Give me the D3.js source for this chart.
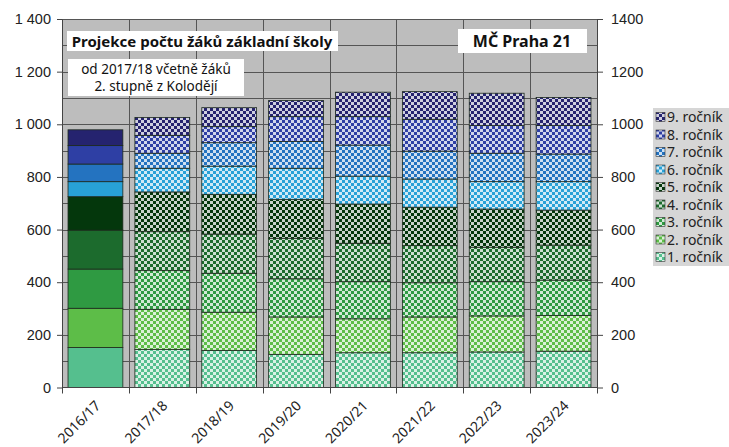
<!DOCTYPE html>
<html>
<head>
<meta charset="utf-8">
<script src="https://cdn.jsdelivr.net/npm/d3@7"></script>
<style>
  html, body { margin: 0; padding: 0; background: #fff; }
  svg { display: block; font-family: "Noto Sans", "Open Sans", sans-serif; }
</style>
</head>
<body>
<svg id="chart" width="729" height="447"></svg>
<script>
// school years (2016/17 is actual, rest is projection)
const years = ['2016/17', '2017/18', '2018/19', '2019/20', '2020/21', '2021/22', '2022/23', '2023/24'];
const grades = ['1. ročník', '2. ročník', '3. ročník', '4. ročník', '5. ročník', '6. ročník', '7. ročník', '8. ročník', '9. ročník'];
const grade1 = [152, 145, 141, 126, 132, 132, 135, 138];
const grade2 = [149, 152, 145, 142, 129, 136, 137, 136];
const grade3 = [149, 147, 148, 145, 141, 130, 130, 134];
const grade4 = [148, 148, 149, 154, 146, 141, 131, 133];
const grade5 = [127, 151, 151, 148, 149, 146, 145, 133];
const grade6 = [57, 90, 107, 118, 106, 107, 104, 108];
const grade7 = [67, 57, 89, 102, 118, 106, 108, 105];
const grade8 = [70, 68, 61, 94, 108, 121, 105, 108];
const grade9 = [60, 68, 72, 61, 93, 105, 123, 107];
const yTicks = [0, 200, 400, 600, 800, 1000, 1200, 1400];
const yTickLabelsLeft = ['0', '200', '400', '600', '800', '1 000', '1 200', '1 400'];
const yTickLabelsRight = ['0', '200', '400', '600', '800', '1000', '1200', '1400'];
const title = 'Projekce počtu žáků základní školy';
const subtitle = ['od 2017/18 včetně žáků', '2. stupně z Kolodějí'];
const place = 'MČ Praha 21';

const colors = ['#55bf8e', '#5dbd48', '#2f9a42', '#1c6b2d', '#04370c', '#28a1d7', '#2473c0', '#2e3fa4', '#25236f'];

const series = [grade1, grade2, grade3, grade4, grade5, grade6, grade7, grade8, grade9];
const rows = years.map((y, i) => {
  const r = { year: y };
  grades.forEach((g, k) => { r[g] = series[k][i]; });
  return r;
});

const svg = d3.select('#chart');
const L = 62, R = 597, T = 19, B = 387.5;

const x = d3.scaleBand().domain(years).range([L, R]).paddingInner(0.18).paddingOuter(0.09);
const y = d3.scaleLinear().domain([0, 1400]).range([B, T]);

// checker patterns for projected years
const defs = svg.append('defs');
colors.forEach((c, k) => {
  const p = defs.append('pattern').attr('id', `chk${k}`).attr('patternUnits', 'userSpaceOnUse')
    .attr('width', 6).attr('height', 6);
  p.append('rect').attr('width', 6).attr('height', 6).attr('fill', d3.interpolateRgb(c, '#fff')(0.78));
  p.append('rect').attr('width', 3).attr('height', 3).attr('fill', c);
  p.append('rect').attr('x', 3).attr('y', 3).attr('width', 3).attr('height', 3).attr('fill', c);
});

// plot area
svg.append('rect').attr('x', L).attr('y', T).attr('width', R - L).attr('height', B - T).attr('fill', '#bdbdbd');

const grid = svg.append('g').attr('stroke', '#555').attr('stroke-width', 1);
grid.selectAll('line.h').data(d3.range(100, 1401, 100)).join('line')
  .attr('x1', L).attr('x2', R).attr('y1', d => Math.round(y(d)) + 0.5).attr('y2', d => Math.round(y(d)) + 0.5);
const bounds = years.map(d => x(d) - x.step() * x.paddingInner() / 2).concat([R]);
grid.selectAll('line.v').data(bounds).join('line')
  .attr('x1', d => Math.round(d) + 0.5).attr('x2', d => Math.round(d) + 0.5).attr('y1', T).attr('y2', B);

// bars
const stack = d3.stack().keys(grades)(rows);
svg.append('g').selectAll('g').data(stack).join('g')
  .each(function (layer, k) {
    d3.select(this).selectAll('rect').data(layer).join('rect')
      .attr('x', d => x(d.data.year))
      .attr('width', x.bandwidth())
      .attr('y', d => y(d[1]))
      .attr('height', d => y(d[0]) - y(d[1]))
      .attr('fill', (d, i) => i === 0 ? colors[k] : `url(#chk${k})`)
      .attr('stroke', '#1d2a1d').attr('stroke-width', 0.8);
  });

// axes
const axisStyle = g => {
  g.select('.domain').attr('stroke', '#444');
  g.selectAll('.tick line').attr('stroke', '#444');
  g.selectAll('text').attr('fill', '#222').attr('font-size', 14.5);
};
svg.append('g').attr('transform', `translate(${L},0)`)
  .call(d3.axisLeft(y).tickValues(yTicks).tickSize(5).tickSizeOuter(0).tickPadding(6)
    .tickFormat((d, i) => yTickLabelsLeft[i]))
  .call(axisStyle);
svg.append('g').attr('transform', `translate(${R},0)`)
  .call(d3.axisRight(y).tickValues(yTicks).tickSize(6).tickSizeOuter(0).tickPadding(8)
    .tickFormat((d, i) => yTickLabelsRight[i]))
  .call(axisStyle);

const xAxis = svg.append('g').attr('transform', `translate(0,${B})`);
xAxis.append('line').attr('x1', L).attr('x2', R).attr('stroke', '#444');
xAxis.selectAll('line.t').data(bounds).join('line')
  .attr('x1', d => Math.round(d) + 0.5).attr('x2', d => Math.round(d) + 0.5).attr('y1', 0).attr('y2', 6).attr('stroke', '#444');
xAxis.selectAll('text').data(years).join('text')
  .attr('transform', d => `translate(${x(d) + x.bandwidth() / 2 + 6},${19}) rotate(-45)`)
  .attr('text-anchor', 'end').attr('font-size', 14).attr('fill', '#222')
  .text(d => d);

// annotation boxes
function box(cx, cy, w, h) {
  svg.append('rect').attr('x', cx).attr('y', cy).attr('width', w).attr('height', h).attr('fill', '#fff');
}
box(67, 31, 271, 20);
svg.append('text').attr('x', 202).attr('y', 46.5).attr('text-anchor', 'middle')
  .attr('font-size', 15).attr('font-weight', 'bold').attr('fill', '#111').text(title);
box(68, 59, 176, 37);
svg.selectAll('text.sub').data(subtitle).join('text')
  .attr('x', 156).attr('y', (d, i) => 74 + i * 17).attr('text-anchor', 'middle')
  .attr('font-size', 13.5).attr('fill', '#111').text(d => d);
box(458, 29, 129, 24);
svg.append('text').attr('x', 522).attr('y', 47).attr('text-anchor', 'middle')
  .attr('font-size', 16).attr('font-weight', 'bold').attr('fill', '#111').text(place);

// legend (9. ročník on top)
const lg = svg.append('g');
lg.append('rect').attr('x', 653).attr('y', 108).attr('width', 80).attr('height', 158).attr('fill', '#d6d6d6');
const items = grades.map((g, k) => ({ g, k })).reverse();
const li = lg.selectAll('g').data(items).join('g')
  .attr('transform', (d, i) => `translate(656,${117 + i * 17.5})`);
li.append('rect').attr('x', 0).attr('y', -4.5).attr('width', 9).attr('height', 9)
  .attr('fill', d => `url(#chk${d.k})`).attr('stroke', '#333').attr('stroke-width', 0.6);
li.append('text').attr('x', 11).attr('y', 5).attr('font-size', 14).attr('fill', '#222').text(d => d.g);
</script>
</body>
</html>
